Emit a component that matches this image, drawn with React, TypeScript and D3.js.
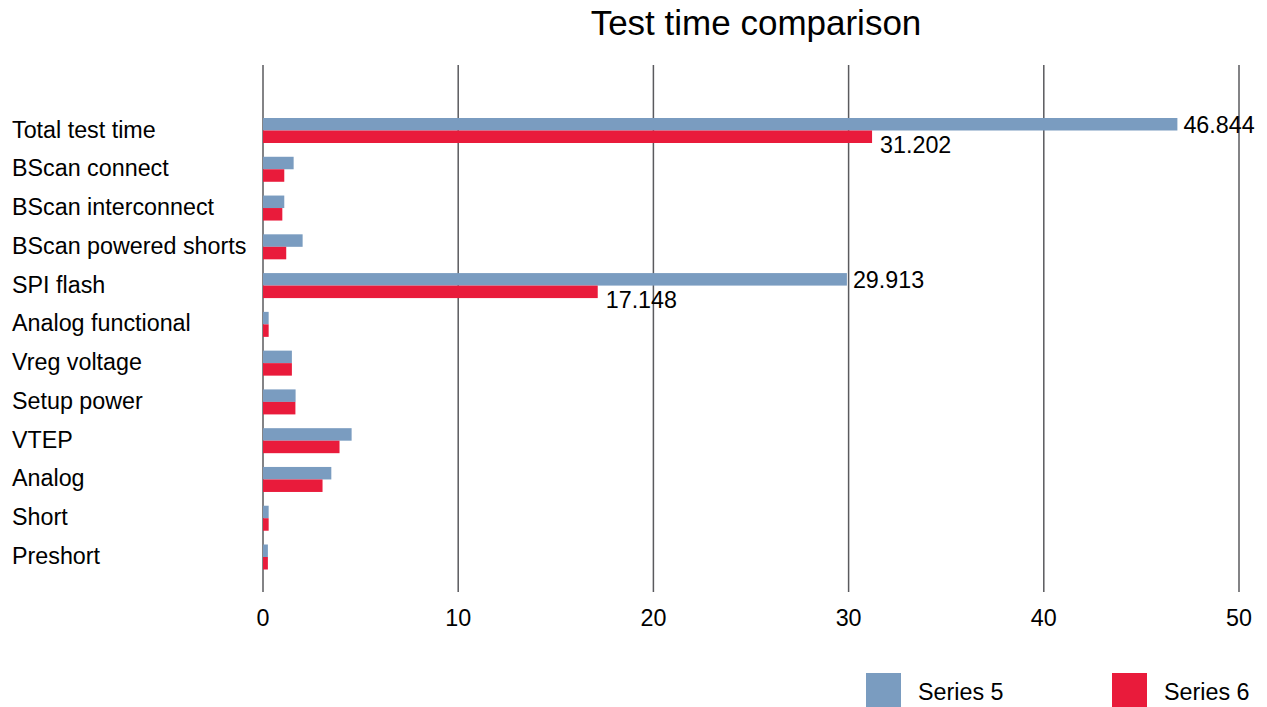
import React from "react";
import * as d3 from "d3";

const categories = [
  "Total test time",
  "BScan connect",
  "BScan interconnect",
  "BScan powered shorts",
  "SPI flash",
  "Analog functional",
  "Vreg voltage",
  "Setup power",
  "VTEP",
  "Analog",
  "Short",
  "Preshort",
];
const series5 = [46.844, 1.57, 1.09, 2.03, 29.913, 0.29, 1.48, 1.67, 4.54, 3.5, 0.29, 0.25];
const series6 = [31.202, 1.09, 0.99, 1.19, 17.148, 0.29, 1.48, 1.66, 3.92, 3.05, 0.29, 0.25];
const labeled = [0, 4];
const ticks = [0, 10, 20, 30, 40, 50];
const seriesNames = ["Series 5", "Series 6"];
const colors = ["#7a9cc0", "#e91b3b"];

export default function App() {
  const W = 1267, H = 707;
  const x = d3.scaleLinear().domain([0, 50]).range([263, 1239]);
  const y = d3.scalePoint<string>().domain(categories).range([130.5, 557]);
  const bh = 12.5;
  const font = "Liberation Sans, Arial, sans-serif";
  const fs = 23.3;
  return (
    <svg width={W} height={H} style={{ position: "absolute", left: 0, top: 0, background: "#fff" }} fontFamily={font}>
      <text x={756} y={35} fontSize={35} textAnchor="middle" fill="#000">Test time comparison</text>
      {ticks.map((t) => (
        <g key={t}>
          <line x1={x(t)} x2={x(t)} y1={65} y2={592} stroke="#5a5a5e" strokeWidth={1.5} />
          <text x={x(t)} y={626} fontSize={fs} textAnchor="middle" fill="#000">{t}</text>
        </g>
      ))}
      {categories.map((c, i) => {
        const cy = y(c)!;
        return (
          <g key={c}>
            <text x={12} y={cy + 7} fontSize={fs} fill="#000">{c}</text>
            <rect x={x(0)} y={cy - bh} width={x(series5[i]) - x(0)} height={bh} fill={colors[0]} />
            <rect x={x(0)} y={cy} width={x(series6[i]) - x(0)} height={bh} fill={colors[1]} />
          </g>
        );
      })}
      {labeled.map((i) => {
        const cy = y(categories[i])!;
        return (
          <g key={i}>
            <text x={x(series5[i]) + 6} y={cy + 2} fontSize={fs} fill="#000">{series5[i].toFixed(3)}</text>
            <text x={x(series6[i]) + 8} y={cy + 22} fontSize={fs} fill="#000">{series6[i].toFixed(3)}</text>
          </g>
        );
      })}
      {seriesNames.map((s, i) => {
        const lx = [866, 1112][i];
        return (
          <g key={s}>
            <rect x={lx} y={673} width={35} height={34} fill={colors[i]} />
            <text x={lx + 52} y={700} fontSize={fs} fill="#000">{s}</text>
          </g>
        );
      })}
    </svg>
  );
}
